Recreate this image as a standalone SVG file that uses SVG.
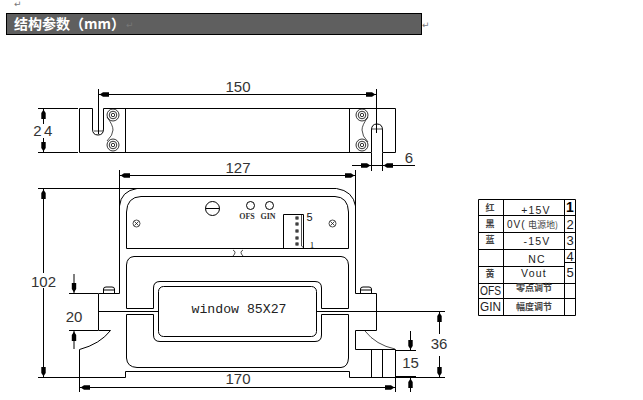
<svg xmlns="http://www.w3.org/2000/svg" xmlns:xlink="http://www.w3.org/1999/xlink" width="643" height="400" viewBox="0 0 643 400">
<style>
.l{fill:none;stroke:#000;stroke-width:1}
.th{fill:none;stroke:#000;stroke-width:.7}
.d{font-family:"Liberation Sans",Arial,sans-serif;font-size:15px;fill:#333;text-anchor:middle}
.c{font-family:"Noto Sans CJK SC",sans-serif;font-size:9px;font-weight:700;fill:#444;text-anchor:middle}
.t{font-family:"Liberation Sans",Arial,sans-serif;font-size:10.5px;fill:#222;text-anchor:middle;letter-spacing:1.200px}
.n{font-family:"Liberation Sans",Arial,sans-serif;font-size:13px;fill:#222;text-anchor:middle}
.p{font-family:"DejaVu Sans",sans-serif;font-size:9px;fill:#777}
</style>
<defs>
<path id="ah" d="M1 0L3 -1.200L4.500 -2.200H10.500V2.200H4.500L3 1.200Z" fill="#000"/>
<g id="sc" fill="none" stroke="#000" stroke-width=".8"><circle r="6"/><circle r="3.800"/><circle r="1.700"/></g>
</defs>
<rect width="643" height="400" fill="#fff"/>
<text class="p" x="14" y="7">↵</text>
<g id="header">
<rect x="6.500" y="13.500" width="415" height="21" fill="#5f5f5f" stroke="#000" stroke-width="1"/>
<text x="14" y="29" font-family="'Noto Sans CJK SC',sans-serif" font-size="14" font-weight="700" fill="#fff">结构参数（mm）</text>
<text class="p" x="126" y="28">↵</text>
</g>
<text class="p" x="422" y="28">↵</text>
<g id="top-view">
<path class="l" d="M79.500 108.500H92.500V129Q92.500 135 98 135Q103.500 135 103.500 129V108.500H395.500V152.500H382.500V130Q382.500 124 377 124Q371.500 124 371.500 130V152.500H79.500Z"/>
<path class="l" d="M125.500 108.500V152.500M349.500 108.500V152.500"/>
<path class="th" d="M107 117Q113 125 113 130Q113 135 107 141M368 117Q362 125 362 130Q362 136 368 142M94 131H103M372 129H382"/>
<use xlink:href="#sc" x="113" y="115"/><use xlink:href="#sc" x="113" y="145"/>
<use xlink:href="#sc" x="362" y="115"/><use xlink:href="#sc" x="362" y="145"/>
</g>
<g id="front-view">
<path class="l" d="M119.500 206V293.500H98.500V330.500H110.500Q100 344 79.500 349.500V377.500H125.500V371.500H349.500V377.500H395.500V349.500H355.500V330.500H376.500V293.500H355.500V206"/>
<path class="l" d="M119.500 206Q121 191 137 188.500H336.500Q353 191 355.500 206"/>
<path class="l" d="M126.500 248.500V212Q127 197 141 196.500H335Q348 197 348.500 212V248.500ZM126.500 308.500V265Q127 257 134 256.500H341Q348 257 348.500 265V308.500H321.500V288Q321.500 281.500 315 281.500H160Q153.500 281.500 153.500 288V308.500ZM126.500 314.500V358Q127 367 137 367.500H341Q348 367 348.500 358V314.500H321.500V335Q321.500 341.500 315 341.500H160Q153.500 341.500 153.500 335V314.500Z"/>
<rect class="l" x="158.500" y="286.500" width="158" height="50" rx="5"/>
<path class="l" d="M98.500 311.500H158.500M316.500 311.500H376.500"/>
<path class="l" d="M371.500 349.500V377.500M382.500 349.500V377.500"/>
<path class="th" d="M365 331Q376 345 395 349"/>
<path class="l" d="M103.500 293V289Q103.500 287 106 287H112Q114.500 287 114.500 289V293M103.500 290H114.500M360.500 293V289Q360.500 287 363 287H369Q371.500 287 371.500 289V293M360.500 290H371.500"/>
<path class="th" d="M233 250Q237 252 233 256M243 250Q239 252 243 256"/>
<circle class="l" cx="212.500" cy="208.500" r="7"/><path class="l" d="M205.500 208.500H219.500"/>
<g transform="translate(136.500 223.500)"><circle class="th" r="3.500"/><path class="th" d="M-2 -2L2 2M-2 2L2 -2"/></g>
<g transform="translate(332.500 223.500)"><circle class="th" r="3.500"/><path class="th" d="M-2 -2L2 2M-2 2L2 -2"/></g>
<circle class="l" cx="250.500" cy="205.500" r="4"/><circle class="l" cx="269.500" cy="205.500" r="4"/>
<text x="247" y="219" font-family="'Liberation Serif',serif" font-size="8" font-weight="700" fill="#333" text-anchor="middle">OFS</text>
<text x="268" y="219" font-family="'Liberation Serif',serif" font-size="8" font-weight="700" fill="#333" text-anchor="middle">GIN</text>
<path class="l" d="M303.500 214.500H283.500V248.500M303.500 214.500V248.500"/>
<path class="th" d="M301.500 215V246L304 248"/>
<g fill="none" stroke="#000"><rect x="296" y="217" width="2" height="2"/><rect x="296" y="223" width="2" height="2"/><rect x="296" y="230" width="2" height="2"/><rect x="296" y="237" width="2" height="2"/><rect x="296" y="243" width="2" height="2"/></g>
<text x="309.500" y="221" font-family="'Liberation Sans',sans-serif" font-size="11" fill="#111" text-anchor="middle">5</text>
<text x="312" y="248" font-family="'Liberation Serif',serif" font-size="9" fill="#111" text-anchor="middle">1</text>
<text x="239" y="313" font-family="'Liberation Mono',monospace" font-size="13.200" fill="#222" text-anchor="middle">window 85X27</text>
</g>
<g id="connectors">
<path class="l" d="M38 108.500H78M38 152.500H78M43.500 108.500V124M43.500 138V152.500"/>
<path class="l" d="M98.500 89V134M376.500 89V133M98.500 94.500H376.500"/>
<path class="l" d="M352 165.500H415M371.500 153V171M382.500 153V171"/>
<path class="l" d="M119.500 170V206M355.500 170V206M119.500 175.500H355.500"/>
<path class="l" d="M38 188.500H137M43.500 188.500V273M43.500 288V377.500M38 377.500H79"/>
<path class="l" d="M69 293.500H98M69 330.500H98M74 274V293M74 331V349"/>
<path class="l" d="M79.500 377V392M395.500 377V392M79.500 387.500H395.500"/>
<path class="l" d="M377 311.500H445M396 377.500H445M439.500 311.500V334M439.500 356V377.500"/>
<path class="l" d="M396 350.500H416M410.500 331V350M410.500 377V392"/><path d="M396 377H416" stroke="#000" stroke-width="2"/>
<use xlink:href="#ah" transform="translate(43.500 108.500) rotate(90)"/><use xlink:href="#ah" transform="translate(43.500 152.500) rotate(-90)"/>
<use xlink:href="#ah" transform="translate(98.500 94.500)"/><use xlink:href="#ah" transform="translate(376.500 94.500) rotate(180)"/>
<use xlink:href="#ah" transform="translate(371.500 165.500) rotate(180)"/><use xlink:href="#ah" transform="translate(382.500 165.500)"/>
<use xlink:href="#ah" transform="translate(119.500 175.500)"/><use xlink:href="#ah" transform="translate(355.500 175.500) rotate(180)"/>
<use xlink:href="#ah" transform="translate(43.500 188.500) rotate(90)"/><use xlink:href="#ah" transform="translate(43.500 377.500) rotate(-90)"/>
<use xlink:href="#ah" transform="translate(74 293.500) rotate(-90)"/><use xlink:href="#ah" transform="translate(74 330.500) rotate(90)"/>
<use xlink:href="#ah" transform="translate(79.500 387.500)"/><use xlink:href="#ah" transform="translate(395.500 387.500) rotate(180)"/>
<use xlink:href="#ah" transform="translate(439.500 311.500) rotate(90)"/><use xlink:href="#ah" transform="translate(439.500 377.500) rotate(-90)"/>
<use xlink:href="#ah" transform="translate(410.500 350.500) rotate(-90)"/><use xlink:href="#ah" transform="translate(410.500 377.500) rotate(90)"/>
</g>
<g id="dimensions">
<text class="d" x="238" y="92">150</text>
<text class="d" x="44" y="136" letter-spacing="2.500">24</text>
<text class="d" x="409" y="162.500">6</text>
<text class="d" x="238" y="173">127</text>
<text class="d" x="43.500" y="287">102</text>
<text class="d" x="74" y="322">20</text>
<text class="d" x="238" y="384">170</text>
<text class="d" x="439" y="349">36</text>
<text class="d" x="410.500" y="368">15</text>
</g>
<g id="table">
<path class="l" d="M478.500 199.500H575.500M478.500 215.500H575.500M478.500 232.500H575.500M478.500 249.500H575.500M478.500 266.500H564.500M564.500 262.500H575.500M478.500 283.500H575.500M478.500 298.500H575.500M478.500 315.500H575.500M478.500 199.500V315.500M503.500 199.500V315.500M564.500 199.500V315.500M575.500 199.500V315.500"/>
<text class="c" x="490" y="210.500">红</text><text class="c" x="490" y="227">黑</text><text class="c" x="490" y="243">蓝</text><text class="c" x="490" y="276.500">黄</text>
<text x="490.500" y="295" font-family="'Liberation Sans',sans-serif" font-size="12" fill="#222" text-anchor="middle" textLength="21" lengthAdjust="spacingAndGlyphs">OFS</text>
<text x="490.500" y="311" font-family="'Liberation Sans',sans-serif" font-size="12" fill="#222" text-anchor="middle" textLength="21" lengthAdjust="spacingAndGlyphs">GIN</text>
<text class="t" x="536" y="213.500">+15V</text>
<text class="t" x="507" y="228" style="text-anchor:start;font-size:10px;letter-spacing:1px">0V(</text><text class="c" x="543" y="228" style="font-weight:400">电源地)</text>
<text class="t" x="537" y="244.500">-15V</text><text class="t" x="537" y="263">NC</text><text class="t" x="534" y="276.500">Vout</text>
<text class="c" x="534" y="291">零点调节</text><text class="c" x="534" y="310">幅度调节</text>
<text class="n" x="570" y="212" style="font-weight:700;font-size:14px;fill:#000">1</text>
<text class="n" x="570" y="229">2</text>
<text class="n" x="570" y="245">3</text>
<text class="n" x="570" y="261">4</text>
<text class="n" x="570" y="277">5</text>
</g>
</svg>
